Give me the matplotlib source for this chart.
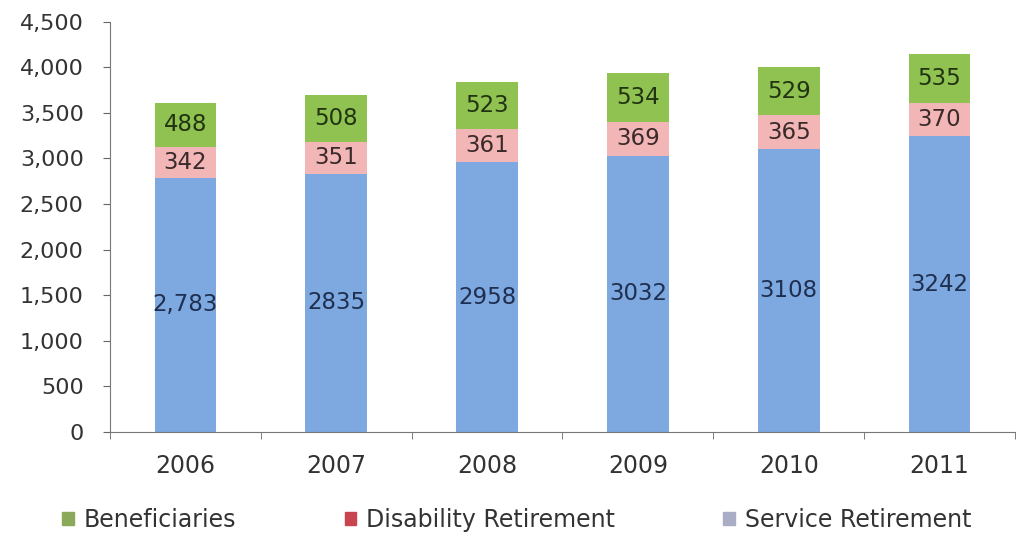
import matplotlib.pyplot as plt
import numpy as np

years = ["2006", "2007", "2008", "2009", "2010", "2011"]
service = [2783, 2835, 2958, 3032, 3108, 3242]
disability = [342, 351, 361, 369, 365, 370]
beneficiaries = [488, 508, 523, 534, 529, 535]
service_labels = ["2,783", "2835", "2958", "3032", "3108", "3242"]

plt.rcParams["font.family"] = ["DejaVu Sans"]

fig = plt.figure(figsize=(10.19, 5.33), dpi=100)
ax = fig.add_axes([0.108, 0.19, 0.888, 0.769])

x = np.arange(len(years))
w = 0.41
c_serv = "#7ea8e0"
c_dis = "#f2b6b6"
c_ben = "#8fc250"

ax.bar(x, service, w, color=c_serv)
ax.bar(x, disability, w, bottom=service, color=c_dis)
bottom2 = [s + d for s, d in zip(service, disability)]
ax.bar(x, beneficiaries, w, bottom=bottom2, color=c_ben)

for i in range(len(years)):
    ax.text(x[i], service[i] / 2, service_labels[i], ha="center", va="center",
            fontsize=16.5, color="#1f2f4f")
    ax.text(x[i], service[i] + disability[i] / 2, str(disability[i]), ha="center",
            va="center", fontsize=16.5, color="#3a2a2a")
    ax.text(x[i], bottom2[i] + beneficiaries[i] / 2, str(beneficiaries[i]),
            ha="center", va="center", fontsize=16.5, color="#223311")

ax.set_xlim(-0.5, len(years) - 0.5)
ax.set_ylim(0, 4500)
ax.set_yticks(range(0, 4501, 500))
ax.set_yticklabels([f"{v:,}" for v in range(0, 4501, 500)], fontsize=16, color="#333333")
ax.set_xticks(x)
ax.set_xticklabels(years, fontsize=17, color="#333333")
ax.set_xticks(np.arange(-0.5, len(years), 1), minor=True)
ax.tick_params(axis="x", which="major", length=0, pad=16)
ax.tick_params(axis="x", which="minor", length=5, color="#666666")
ax.tick_params(axis="y", length=5, color="#666666", pad=14)

for s in ["top", "right"]:
    ax.spines[s].set_visible(False)
for s in ["left", "bottom"]:
    ax.spines[s].set_color("#777777")

handles = [plt.Rectangle((0, 0), 1, 1, color="#8aaa5a"),
           plt.Rectangle((0, 0), 1, 1, color="#c8454f"),
           plt.Rectangle((0, 0), 1, 1, color="#a9adc6")]
fig.legend(handles, ["Beneficiaries", "Disability Retirement", "Service Retirement"],
           loc="center", bbox_to_anchor=(0.507, 0.025), ncol=3, frameon=False,
           fontsize=17, handlelength=0.5, handleheight=0.5, handletextpad=0.4,
           columnspacing=4.6, labelcolor="#333333")

fig.savefig("out.png", dpi=100)
